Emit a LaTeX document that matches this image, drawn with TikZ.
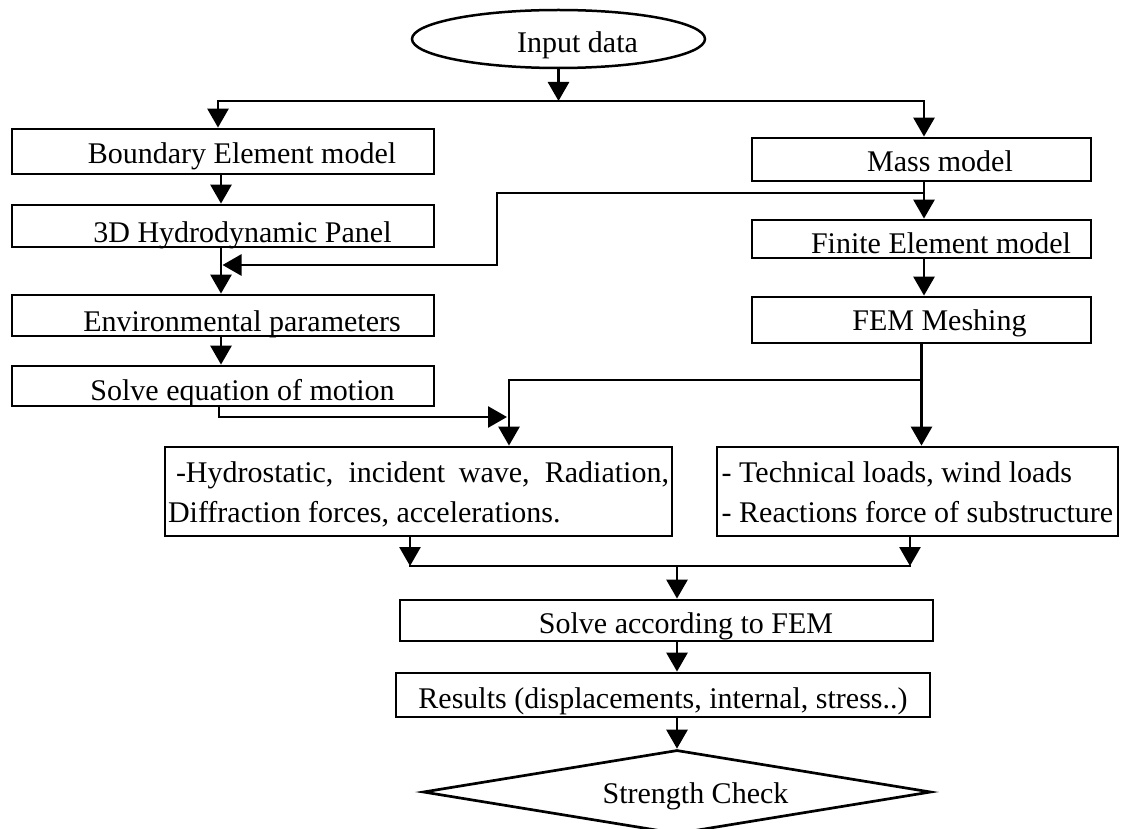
\documentclass[tikz,border=0pt]{standalone}
\usepackage{fontspec}
\setmainfont{Liberation Serif}
\usetikzlibrary{arrows.meta,shapes.geometric}
\newcommand{\ind}{\hspace*{38pt}}
\begin{document}
\begin{tikzpicture}[x=1pt,y=-1pt,
  font=\fontsize{30pt}{40pt}\selectfont,
  box/.style={draw,line width=2.8pt,rectangle,inner sep=0pt,text depth=0pt},
  arr/.style={line width=2.8pt,-{Triangle[length=19pt,width=21pt]}},
  arrs/.style={line width=2.8pt,{Triangle[length=19pt,width=21pt]}-{Triangle[length=19pt,width=21pt]}},
  ln/.style={line width=2.8pt,line cap=rect}]
\useasboundingbox (0,0) rectangle (1129,829);

% nodes
\node[draw,ellipse,line width=2.5pt,minimum width=293pt,minimum height=58pt,inner sep=0pt,text height=28pt,text depth=0pt] (input) at (558.5,39) {\ind Input data};

\node[box,minimum width=422pt,minimum height=45pt,text height=25pt] (bem) at (223,151.5) {\ind Boundary Element model};
\node[box,minimum width=422pt,minimum height=42pt,text height=32pt] (hyd) at (223,226) {\hspace*{39pt}3D Hydrodynamic Panel};
\node[box,minimum width=422pt,minimum height=41pt,text height=31pt] (env) at (223,315.5) {\ind Environmental parameters};
\node[box,minimum width=422pt,minimum height=40pt,text height=28pt] (seq) at (223,386) {\hspace*{39pt}Solve equation of motion};

\node[box,minimum width=339pt,minimum height=43pt,text height=25pt] (mass) at (921.5,159.5) {\hspace*{37pt}Mass model};
\node[box,minimum width=339pt,minimum height=38pt,text height=28pt] (fin) at (921.5,239) {\hspace*{39pt}Finite Element model};
\node[box,minimum width=339pt,minimum height=46pt,text height=20pt] (mesh) at (921.5,320) {\hspace*{36pt}FEM Meshing};

\node[box,minimum width=507pt,minimum height=89pt,text width=501pt,align=justify,inner xsep=3pt,text height=21pt,text depth=40pt] (forces) at (418.5,491.5)
  {\hspace*{8pt}-Hydrostatic, incident wave, Radiation,\linebreak Diffraction forces, accelerations.};
\node[box,minimum width=401pt,minimum height=89pt,align=left,inner xsep=0pt,text height=61pt,text depth=0pt] (tech) at (917.5,491.5)
  {- Technical loads, wind loads\\- Reactions force of substructure};

\node[box,minimum width=533pt,minimum height=41pt,text height=25pt] (sfem) at (666.5,620.5) {\hspace*{39pt}Solve according to FEM};
\node[box,minimum width=534pt,minimum height=44pt,text height=26pt] (res) at (663,695) {Results (displacements, internal, stress..)};

\node[draw,diamond,shape aspect=6,line width=2.7pt,minimum width=508pt,minimum height=84pt,inner sep=0pt,text height=22pt,text depth=0pt] (check) at (677,792) {\hspace*{37pt}Strength Check};

% coordinates
\coordinate (bus) at (558.5,101);
\coordinate (m1) at (924,193);
\coordinate (k1) at (497,265);
\coordinate (m2) at (222.5,265);
\coordinate (j1) at (507,417);
\coordinate (b1) at (921.5,380);
\coordinate (jl) at (410,566);
\coordinate (jr) at (910,566);
\coordinate (jm) at (677,566);

% connectors
\draw[arr] (input.south) -- (bus);
\draw[arrs] ([xshift=-5pt]bem.north) |- (bus) -| ([xshift=2.5pt]mass.north);
\draw[arr] ([xshift=-2pt]bem.south) -- ([xshift=-2pt]hyd.north);
\draw[arr] ([xshift=-2pt]hyd.south) -- ([xshift=-2pt]env.north);
\draw[arr] ([xshift=-2pt]env.south) -- ([xshift=-2pt]seq.north);
\draw[arr] ([xshift=2.5pt]mass.south) -- ([xshift=2.5pt]fin.north);
\draw[arr] ([xshift=2.5pt]fin.south) -- ([xshift=2.5pt]mesh.north);
\draw[arr] (m1) -| (k1) -- (m2);
\draw[arr] ([xshift=-4pt]seq.south) |- (j1);
\draw[arr] (mesh.south) -- (mesh.south |- tech.north);
\draw[arr] (b1) -| ([xshift=90.5pt]forces.north);
\draw[arr] (forces.south -| jl) -- (jl);
\draw[arr] (tech.south -| jr) -- (jr);
\draw[ln] (jl) -- (jr);
\draw[arr] (jm) -- (jm |- sfem.north);
\draw[arr] (sfem.south -| jm) -- (res.north -| jm);
\draw[arr] (res.south -| jm) -- (check.north);
\end{tikzpicture}
\end{document}
